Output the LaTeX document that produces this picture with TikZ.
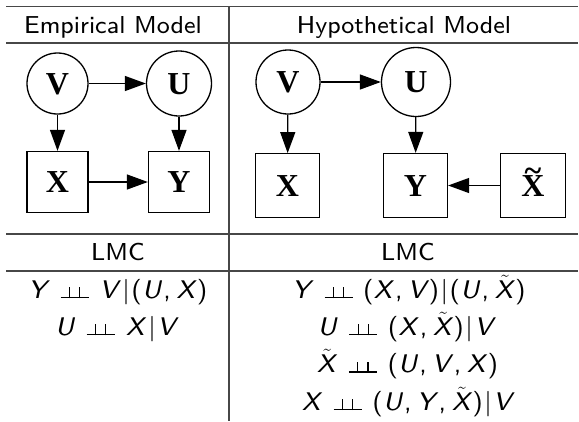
\documentclass[tikz,border=0pt]{standalone}
\usepackage{fontspec}
\newfontfamily\gvfont{Liberation Serif}
\newfontfamily\sfx{lmsans8-regular}[Extension=.otf, ItalicFont=lmsans8-oblique]
\usetikzlibrary{arrows.meta}
\newcommand\lt[1]{\hbox to 21pt{\hss\textit{#1}\hss}}
\newcommand\tl[1]{\hbox to 21pt{\hss$\tilde{\mbox{\textit{#1}}}$\hss}}
\newcommand\indepsym{\hbox{\rlap{\rule{28pt}{1.3pt}}\kern8.3pt\rule{1.3pt}{11pt}\kern8.8pt\rule{1.3pt}{11pt}\kern8.3pt}}
\newcommand\ind{\hbox to 50pt{\hss\indepsym\hss}}
\newcommand\br{\hbox to 11pt{\hss|\hss}}
\newcommand\op{\hbox to 10pt{\hss(\hss}}
\newcommand\cp{\hbox to 10pt{\hss)\hss}}
\newcommand\cm{\hbox to 13.5pt{\kern0.5pt,\hss}}
\newcommand\gvtilde{\ooalign{X\cr\hidewidth\raisebox{15pt}{\char"7E}\hidewidth\cr}}
\tikzset{
  tline/.style={draw=black!72, line width=1.2pt},
  ttext/.style={anchor=base, inner sep=0pt, font=\sfx\fontsize{24.5}{29}\selectfont},
  mtext/.style={anchor=base, inner sep=0pt, font=\sfx\fontsize{25.5}{30}\selectfont},
  gv/.style={draw, line width=1.3pt, inner sep=0pt, text height=21pt, text depth=0pt,
             font=\gvfont\bfseries\fontsize{32}{38}\selectfont},
  gcirc/.style={gv, circle},
  gbox/.style={gv, rectangle},
  garrow/.style={line width=1.3pt, -{Triangle[length=21pt,width=15pt]}}
}
\begin{document}
\begin{tikzpicture}[x=1pt, y=-1pt]
\useasboundingbox (0,0) rectangle (579,421);
% table rules
\draw[tline] (6,6.5) -- (578,6.5);
\draw[tline] (6,43) -- (578,43);
\draw[tline] (6,234) -- (578,234);
\draw[tline] (6,271) -- (578,271);
\draw[tline] (229,6.5) -- (229,421);
% headers
\node[ttext] (h1) at (113,33.3) {Empirical Model};
\node[ttext] (h2) at (404,33.3) {Hypothetical Model};
\node[ttext] (l1) at (118,260) {LMC};
\node[ttext] (l2) at (408,260) {LMC};
% empirical graph
\node[gcirc, minimum size=61pt] (eV) at (57.5,83.5) {V};
\node[gcirc, minimum size=65pt] (eU) at (179,83.5) {U};
\node[gbox, minimum size=61pt] (eX) at (57.5,182) {X};
\node[gbox, minimum size=61pt] (eY) at (179,182) {Y};
\draw[garrow] (eV) -- (eU);
\draw[garrow] (eV) -- (eX);
\draw[garrow] (eU) -- (eY);
\draw[garrow] (eX) -- (eY);
% hypothetical graph
\node[gcirc, minimum size=64pt] (hV) at (288,82) {V};
\node[gcirc, minimum size=69pt] (hU) at (416,82) {U};
\node[gbox, minimum size=63.5pt] (hX) at (287.5,185.5) {X};
\node[gbox, minimum size=64pt] (hY) at (415.5,185.5) {Y};
\node[gbox, minimum width=65pt, minimum height=63.5pt] (hXt) at (533,185.5) {\gvtilde};
\draw[garrow] (hV) -- (hU);
\draw[garrow] (hV) -- (hX);
\draw[garrow] (hU) -- (hY);
\draw[garrow] (hXt) -- (hY);
% LMC statements
\node[mtext] (a1) at (118,298.3) {\lt{Y}\ind\lt{V}\br\op\lt{U}\cm\lt{X}\cp};
\node[mtext] (a2) at (116.7,335.3) {\lt{U}\ind\lt{X}\br\lt{V}};
\node[mtext] (b1) at (409,298.3) {\lt{Y}\ind\op\lt{X}\cm\lt{V}\cp\br\op\lt{U}\cm\tl{X}\cp};
\node[mtext] (b2) at (406.5,335.3) {\lt{U}\ind\op\lt{X}\cm\tl{X}\cp\br\lt{V}};
\node[mtext] (b3) at (407.3,372.7) {\tl{X}\ind\op\lt{U}\cm\lt{V}\cm\lt{X}\cp};
\node[mtext] (b4) at (408.2,410) {\lt{X}\ind\op\lt{U}\cm\lt{Y}\cm\tl{X}\cp\br\lt{V}};
\end{tikzpicture}
\end{document}
